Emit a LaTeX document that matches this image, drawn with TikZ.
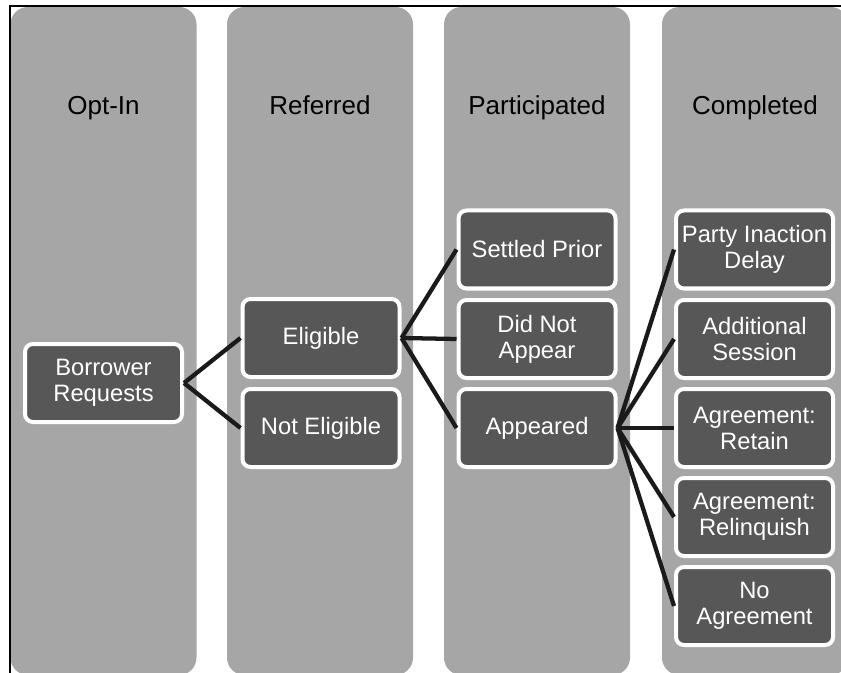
\documentclass[tikz,border=0pt]{standalone}
\usepackage{fontspec}
\setmainfont{Liberation Sans}
\usepackage{tikz}
\usetikzlibrary{positioning}
\definecolor{lanegray}{HTML}{A6A6A6}
\definecolor{boxgray}{HTML}{575757}
\definecolor{wiregray}{HTML}{1A1A1A}

\begin{document}
\begin{tikzpicture}[
  x=0.75pt, y=-0.75pt,
  lane/.style={fill=lanegray, rounded corners=13pt, minimum width=139.5pt,
               minimum height=501pt, inner sep=0pt},
  head/.style={font=\fontsize{19.5}{22}\selectfont, text=black, inner sep=0pt,
               anchor=base},
  stage/.style={draw=white, line width=3pt, fill=boxgray, rounded corners=6pt,
                text=white, align=center, minimum width=117.75pt,
                minimum height=58.5pt, inner sep=1pt,
                font=\fontsize{17.8}{19.5}\selectfont},
  wire/.style={draw=wiregray, line width=3.2pt}
]
\useasboundingbox (0,0) rectangle (841,673);

% ---- lanes ----
\node[lane] (optin) at (103.5,341) {};
\node[lane] (refd)  at (320,341)   {};
\node[lane] (part)  at (537,341)   {};
\node[lane] (comp)  at (755,341)   {};
\node[head] (h1) at (103.5,115) {Opt-In};
\node[head] (h2) at (320,115)   {Referred};
\node[head] (h3) at (537,115)   {Participated};
\node[head] (h4) at (755,115)   {Completed};

% ---- stages ----
\node[stage] (borrow)  at (103.5,383)  {Borrower\\Requests};
\node[stage] (elig)    at (321,338)    {Eligible};
\node[stage] (nelig)   at (321,428)    {Not Eligible};
\node[stage] (settled) at (537,249.5)  {Settled Prior};
\node[stage] (noshow)  at (537,339)    {Did Not\\Appear};
\node[stage] (appear)  at (537,428)    {Appeared};
\node[stage] (delay)   at (754.5,249.5){Party Inaction\\Delay};
\node[stage] (session) at (754.5,339)  {Additional\\Session};
\node[stage] (retain)  at (754.5,428)  {Agreement:\\Retain};
\node[stage] (relinq)  at (754.5,517)  {Agreement:\\Relinquish};
\node[stage] (noagr)   at (754.5,606)  {No\\Agreement};

% ---- wires ----
\draw[wire] (borrow.east) -- (elig.west);
\draw[wire] (borrow.east) -- (nelig.west);
\draw[wire] (elig.east)   -- (settled.west);
\draw[wire] (elig.east)   -- (noshow.west);
\draw[wire] (elig.east)   -- (appear.west);
\foreach \t in {delay,session,retain,relinq,noagr}
  \draw[wire] (appear.east) -- (\t.west);

% ---- frame ----
\draw[line width=1.5pt] (10,673) -- (10,6.5) -- (841,6.5);
\end{tikzpicture}
\end{document}
